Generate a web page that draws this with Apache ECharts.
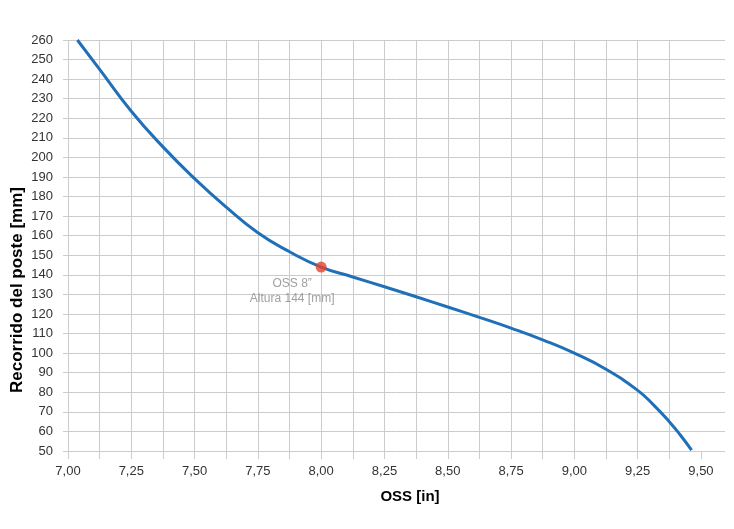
<!DOCTYPE html>
<html>
<head>
<meta charset="utf-8">
<script src="https://cdn.jsdelivr.net/npm/echarts@6/dist/echarts.min.js"></script>
<style>
  html, body { margin: 0; padding: 0; background: #fff; }
  #main { width: 734px; height: 529px; }
</style>
</head>
<body>
<div id="main"></div>
<script>
// curva OSS vs recorrido
var ossIn = [7.037, 7.125, 7.25, 7.375, 7.5, 7.625, 7.75, 7.875, 8.0, 8.125, 8.25, 8.375,
  8.5, 8.625, 8.75, 8.875, 9.0, 9.125, 9.25, 9.3125, 9.375, 9.42, 9.463]
var recorrido = [260, 245, 223.6, 205.4, 189.2, 174.6, 161.5, 151.8, 144, 138.9, 133.9, 128.8,
  123.6, 118.3, 112.8, 106.8, 100, 91.8, 81, 73.6, 65, 57.9, 50.4]

// punto marcado
var puntoX = [8.0]
var puntoY = [144]
var puntoTexto = ['OSS 8”\nAltura 144 [mm]']

// marcas del eje x (cada 0,125, etiqueta cada 0,25)
var xTicks = [7.0, 7.125, 7.25, 7.375, 7.5, 7.625, 7.75, 7.875, 8.0, 8.125, 8.25, 8.375,
  8.5, 8.625, 8.75, 8.875, 9.0, 9.125, 9.25, 9.375, 9.5]
var xLabels = [7.0, 7.25, 7.5, 7.75, 8.0, 8.25, 8.5, 8.75, 9.0, 9.25, 9.5]

var myChart = echarts.init(document.getElementById('main'))

var curva = ossIn.map(function (x, i) { return [x, recorrido[i]] })
var punto = puntoX.map(function (x, i) { return [x, puntoY[i]] })

var gris = '#cccccc'
var fuente = 'Liberation Sans, Arial, sans-serif'

var option = {
  animation: false,
  grid: { left: 68, right: 9, top: 40, bottom: 78 },
  xAxis: {
    type: 'value',
    min: 7,
    max: 9.595,
    axisLine: { show: false },
    axisTick: {
      show: true, length: 8, customValues: xTicks,
      lineStyle: { color: gris }
    },
    splitLine: {
      show: true, showMaxLine: false,
      lineStyle: { color: gris, width: 1 }
    },
    axisLabel: {
      customValues: xLabels,
      margin: 14,
      color: '#333',
      fontSize: 13,
      fontFamily: fuente,
      formatter: function (v) { return v.toFixed(2).replace('.', ',') }
    }
  },
  yAxis: {
    type: 'value',
    min: 50,
    max: 260,
    interval: 10,
    axisLine: { show: false },
    axisTick: { show: true, length: 5, lineStyle: { color: gris } },
    splitLine: { show: true, lineStyle: { color: gris, width: 1 } },
    axisLabel: {
      margin: 15,
      color: '#333',
      fontSize: 13,
      fontFamily: fuente
    }
  },
  graphic: [
    {
      // titulo eje y
      type: 'text',
      x: 17, y: 290,
      rotation: Math.PI / 2,
      style: {
        text: 'Recorrido del poste [mm]',
        font: 'bold 17px ' + fuente,
        fill: '#000',
        align: 'center',
        verticalAlign: 'middle'
      }
    },
    {
      // titulo eje x
      type: 'text',
      x: 410, y: 497,
      style: {
        text: 'OSS [in]',
        font: 'bold 15px ' + fuente,
        fill: '#000',
        align: 'center',
        verticalAlign: 'middle'
      }
    }
  ],
  series: [
    {
      name: 'Recorrido',
      type: 'line',
      data: curva,
      smooth: 0.5,
      showSymbol: false,
      lineStyle: { color: '#1f70b8', width: 3 },
      z: 2
    },
    {
      name: 'OSS 8',
      type: 'scatter',
      data: punto,
      symbolSize: 11,
      itemStyle: { color: '#e8412c' },
      label: {
        show: true,
        position: 'bottom',
        distance: 4,
        offset: [-29, 0],
        align: 'center',
        color: '#888',
        fontSize: 12,
        lineHeight: 15,
        fontFamily: fuente,
        formatter: function (p) { return puntoTexto[p.dataIndex] }
      },
      z: 3
    }
  ]
}

myChart.setOption(option)
</script>
</body>
</html>
